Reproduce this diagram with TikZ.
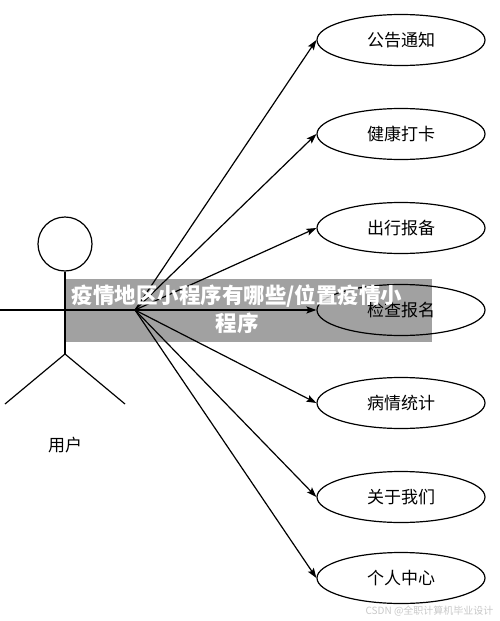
\documentclass[tikz,border=0pt]{standalone}
\usepackage{fontspec}
\setmainfont{Noto Sans CJK SC}
\usetikzlibrary{arrows.meta,shapes.geometric}
\definecolor{banner}{RGB}{160,160,160}
\definecolor{mark}{RGB}{200,200,200}

\begin{document}
\begin{tikzpicture}[x=1pt,y=-1pt,
 usecase/.style={ellipse,draw=black,line width=1.2pt,minimum width=168pt,minimum height=51pt,inner sep=0pt,font=\fontsize{17}{19}\selectfont},
 limb/.style={draw=black,line width=1.2pt},
 arr/.style={-{Stealth[length=10pt,width=7pt,inset=2pt]},line width=1.2pt,draw=black}]
\useasboundingbox (0,0) rectangle (500,621);
% actor
\node[circle,draw=black,line width=1.2pt,minimum size=54pt,inner sep=0pt] (head) at (65,244) {};
\coordinate (hip) at (65,354);
\coordinate (lfoot) at (5,404); \coordinate (rfoot) at (125,404);
\coordinate (hand) at (0,310); \coordinate (hub) at (135,310);
\draw[limb] (head.south)--(hip); \draw[limb] (hip)--(lfoot); \draw[limb] (hip)--(rfoot);
\draw[limb] (hand)--(hub);
\node[font=\fontsize{17}{19}\selectfont] (user) at (65,445) {用户};
% use cases
\node[usecase] (notice) at (401,40) {公告通知};
\node[usecase] (health) at (401,134) {健康打卡};
\node[usecase] (travel) at (401,228) {出行报备};
\node[usecase] (check) at (401,310) {检查报名};
\node[usecase] (stats) at (401,403) {病情统计};
\node[usecase] (about) at (401,497) {关于我们};
\node[usecase] (me) at (401,578) {个人中心};
\foreach \u in {notice,health,travel,check,stats,about,me}
  \draw[arr] (hub)--(\u.west);
% overlay
\fill[black,opacity=.37] (66,279) rectangle (432,342);
\node[text=white,align=center,font=\fontsize{21.5}{28}\selectfont\bfseries] (title) at (237,309) {疫情地区小程序有哪些/位置疫情小\\程序};
\node[text=mark,font=\fontsize{10}{12}\selectfont,anchor=east] (wm) at (497,611) {CSDN @全职计算机毕业设计};
\end{tikzpicture}
\end{document}
